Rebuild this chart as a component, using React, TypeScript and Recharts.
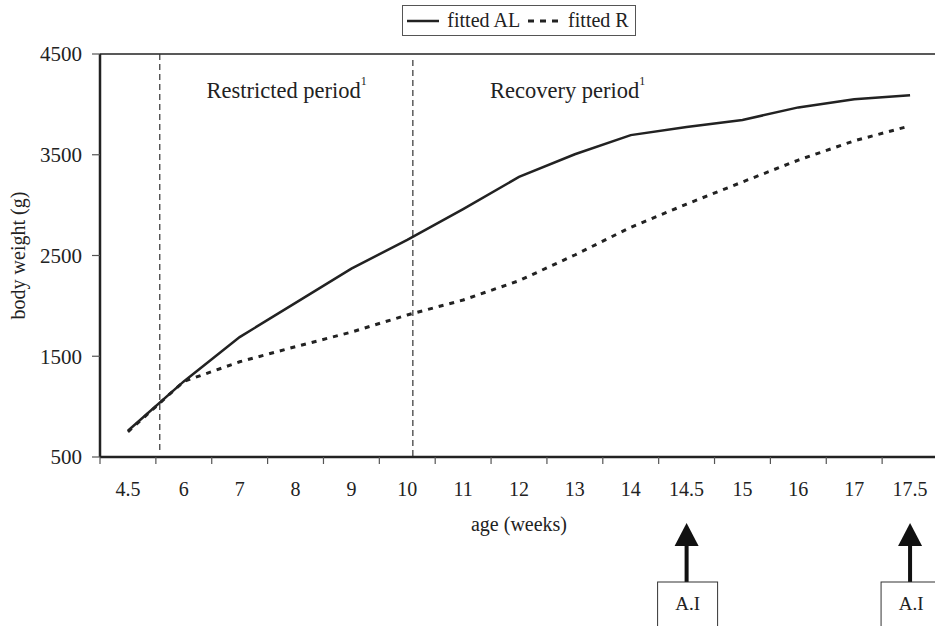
import { LineChart, Line, XAxis, YAxis, ReferenceLine, ReferenceDot, Legend } from 'recharts';

const ageLabels = ['4.5', '6', '7', '8', '9', '10', '11', '12', '13', '14', '14.5', '15', '16', '17', '17.5'];
const fittedAL = [760, 1250, 1690, 2030, 2370, 2655, 2960, 3280, 3505, 3695, 3775, 3845, 3970, 4050, 4090];
const fittedR = [750, 1250, 1445, 1595, 1740, 1910, 2058, 2250, 2505, 2780, 3010, 3230, 3447, 3638, 3787];
const yTicks = [500, 1500, 2500, 3500, 4500];
const aiWeeks = ['14.5', '17.5'];
const restrictedStart = 0.57;
const recoveryStart = 5.1;

const data = ageLabels.map((age, i) => ({ idx: i, age, al: fittedAL[i], r: fittedR[i] }));
// ticks at category centres (labels) and at category edges (tick marks)
const xTicks: number[] = [];
for (let i = 0; i <= ageLabels.length; i++) {
    xTicks.push(i - 0.5);
    if (i < ageLabels.length) xTicks.push(i);
}

const font = '"Liberation Serif", "Times New Roman", serif';
const ink = '#222';

const XTick = (props: any) => {
    const { x, y, payload } = props;
    const v = payload.value as number;
    if (!Number.isInteger(v)) {
        return <line x1={x} y1={y - 7} x2={x} y2={y} stroke="#555" strokeWidth={1.2} />;
    }
    const label = ageLabels[v];
    const ai = aiWeeks.includes(label);
    return (
        <g>
            <text x={x} y={y + 32} textAnchor="middle" fontFamily={font} fontSize={20} fill={ink}>
                {label}
            </text>
            {ai && (
                <g>
                    <rect x={x - 2} y={y + 80} width={4} height={39} fill="#111" />
                    <polygon points={`${x - 12},${y + 82} ${x + 12},${y + 82} ${x},${y + 59}`} fill="#111" />
                    <rect x={x - 29} y={y + 118} width={60} height={60} fill="#fff" stroke="#333" strokeWidth={1} />
                    <text x={x + 1} y={y + 146} textAnchor="middle" fontFamily={font} fontSize={19} fill={ink}>
                        A.I
                    </text>
                </g>
            )}
        </g>
    );
};

const renderLegend = () => (
    <div style={{ height: 49, textAlign: 'center' }}>
        <div
            style={{
                display: 'inline-flex',
                alignItems: 'center',
                border: '1px solid #555',
                height: 29,
                padding: '0 6px 0 4px',
                fontFamily: font,
                fontSize: 20,
                color: ink,
            }}
        >
            <svg width={32} height={6}>
                <line x1={0} y1={3} x2={32} y2={3} stroke={ink} strokeWidth={2.5} />
            </svg>
            <span style={{ margin: '0 8px 0 8px' }}>fitted AL</span>
            <svg width={36} height={6}>
                <line x1={0} y1={3} x2={36} y2={3} stroke={ink} strokeWidth={3} strokeDasharray="6 6" />
            </svg>
            <span style={{ marginLeft: 4 }}>fitted R</span>
        </div>
    </div>
);

const periodLabel = (text: string) => (p: any) => {
    const { viewBox } = p;
    const cx = viewBox.x + viewBox.width / 2;
    const cy = viewBox.y + viewBox.height / 2;
    return (
        <text x={cx} y={cy} textAnchor="middle" dominantBaseline="central" fontFamily={font} fontSize={22.5} fill={ink}>
            <tspan fill={ink}>{text}</tspan>
            <tspan fill={ink} fontSize={12} dy={-9}>1</tspan>
        </text>
    );
};

export default function App() {
    return (
        <div style={{ position: 'absolute', left: 0, top: 0, width: 935, height: 626, overflow: 'hidden', background: '#fff' }}>
            <LineChart width={940} height={626} data={data} margin={{ top: 5, right: 2, bottom: 109, left: 40 }}>
                <Legend
                    verticalAlign="top"
                    align="center"
                    content={renderLegend}
                    wrapperStyle={{ left: 100, width: 838 }}
                />
                <XAxis
                    dataKey="idx"
                    type="number"
                    domain={[-0.5, ageLabels.length - 0.5]}
                    ticks={xTicks}
                    interval={0}
                    tick={<XTick />}
                    tickLine={false}
                    tickSize={7}
                    tickMargin={0}
                    height={60}
                    axisLine={{ stroke: ink, strokeWidth: 2.5 }}
                    label={{
                        content: (p: any) => {
                            const { viewBox } = p;
                            return (
                                <text
                                    x={viewBox.x + viewBox.width / 2}
                                    y={viewBox.y + 74}
                                    textAnchor="middle"
                                    fontFamily={font}
                                    fontSize={20}
                                    fill={ink}
                                >
                                    age (weeks)
                                </text>
                            );
                        },
                    }}
                />
                <YAxis
                    type="number"
                    domain={[500, 4500]}
                    ticks={yTicks}
                    interval={0}
                    width={60}
                    tickSize={8}
                    tickMargin={10}
                    tickLine={{ stroke: '#555', strokeWidth: 1.2 }}
                    axisLine={{ stroke: ink, strokeWidth: 2.5 }}
                    tick={{ fontFamily: font, fontSize: 21, fill: ink }}
                    label={{
                        content: (p: any) => {
                            const { viewBox } = p;
                            const cx = viewBox.x - 22;
                            const cy = viewBox.y + viewBox.height / 2;
                            return (
                                <text
                                    x={cx}
                                    y={cy}
                                    transform={`rotate(-90 ${cx} ${cy})`}
                                    textAnchor="middle"
                                    dominantBaseline="central"
                                    fontFamily={font}
                                    fontSize={20}
                                    fill={ink}
                                >
                                    body weight (g)
                                </text>
                            );
                        },
                    }}
                />
                <ReferenceLine y={4500} stroke={ink} strokeWidth={1.5} />
                <ReferenceLine
                    segment={[{ x: restrictedStart, y: 4500 }, { x: restrictedStart, y: 570 }]}
                    stroke="#333"
                    strokeWidth={1.2}
                    strokeDasharray="6 4"
                />
                <ReferenceLine
                    segment={[{ x: recoveryStart, y: 4440 }, { x: recoveryStart, y: 500 }]}
                    stroke="#333"
                    strokeWidth={1.2}
                    strokeDasharray="6 4"
                />
                <ReferenceDot x={2.84} y={4145} r={0} fill="none" stroke="none" label={{ content: periodLabel('Restricted period') }} />
                <ReferenceDot x={7.87} y={4145} r={0} fill="none" stroke="none" label={{ content: periodLabel('Recovery period') }} />
                <Line
                    dataKey="r"
                    type="linear"
                    stroke={ink}
                    strokeWidth={3}
                    strokeDasharray="5 6"
                    dot={false}
                    isAnimationActive={false}
                    legendType="none"
                />
                <Line
                    dataKey="al"
                    type="linear"
                    stroke={ink}
                    strokeWidth={2.5}
                    dot={false}
                    isAnimationActive={false}
                    legendType="none"
                />
            </LineChart>
        </div>
    );
}
